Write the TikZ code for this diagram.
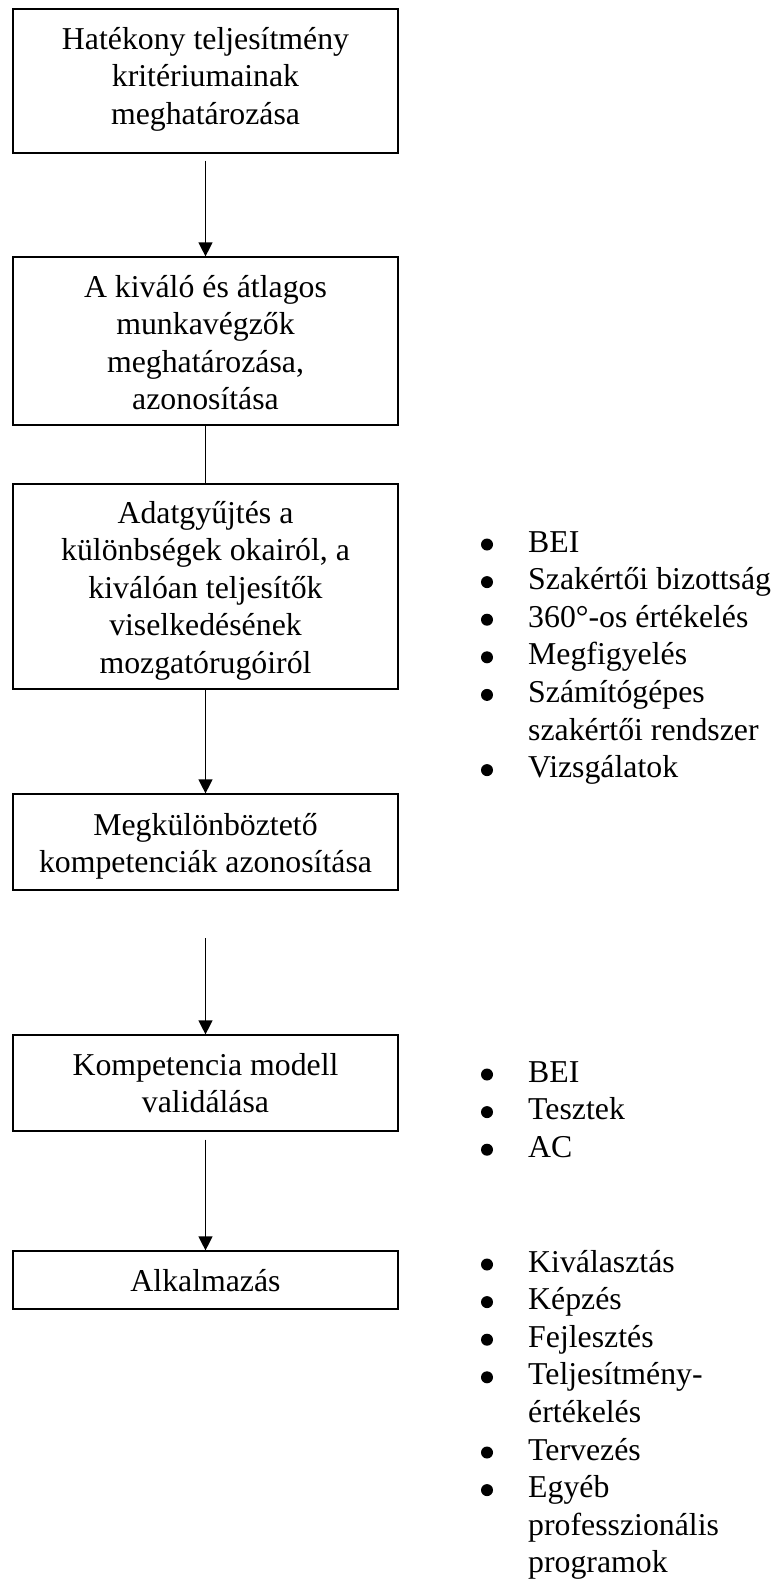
\documentclass[tikz,border=0pt]{standalone}
\usepackage{fontspec}
\setmainfont{Liberation Serif}
\usetikzlibrary{arrows.meta}
\tikzset{
  x=1pt, y=-1pt,
  boxnode/.style={draw=black, line width=1.2pt, rectangle, inner sep=0pt, minimum width=385pt},
  txtnode/.style={inner sep=0pt, anchor=base, font=\fontsize{31.8}{37.6}\selectfont},
  listnode/.style={inner sep=0pt, anchor=base west, font=\fontsize{31.8}{37.6}\selectfont},
  arr/.style={line width=1.2pt, -{Triangle[width=14pt,length=14pt]}},
  conn/.style={line width=1.2pt},
  bulletdot/.style={fill=black}
}
\begin{document}
\begin{tikzpicture}
\useasboundingbox (0,0) rectangle (783,1582);
% boxes
\node[boxnode, minimum height=144pt] (b1) at (205.5,81) {};
\node[boxnode, minimum height=168pt] (b2) at (205.5,341) {};
\node[boxnode, minimum height=205pt] (b3) at (205.5,586.5) {};
\node[boxnode, minimum height=96pt] (b4) at (205.5,842) {};
\node[boxnode, minimum height=96pt] (b5) at (205.5,1083) {};
\node[boxnode, minimum height=58pt] (b6) at (205.5,1280) {};
% box texts
\node[txtnode] (t1) at (205.5,49) {\begin{tabular}[t]{@{}c@{}}Hatékony teljesítmény\\kritériumainak\\meghatározása\end{tabular}};
\node[txtnode] (t2) at (205.5,297) {\begin{tabular}[t]{@{}c@{}}A kiváló és átlagos\\munkavégzők\\meghatározása,\\azonosítása\end{tabular}};
\node[txtnode] (t3) at (205.5,523) {\begin{tabular}[t]{@{}c@{}}Adatgyűjtés a\\különbségek okairól, a\\kiválóan teljesítők\\viselkedésének\\mozgatórugóiról\end{tabular}};
\node[txtnode] (t4) at (205.5,835) {\begin{tabular}[t]{@{}c@{}}Megkülönböztető\\kompetenciák azonosítása\end{tabular}};
\node[txtnode] (t5) at (205.5,1075) {\begin{tabular}[t]{@{}c@{}}Kompetencia modell\\validálása\end{tabular}};
\node[txtnode] (t6) at (205.5,1291) {Alkalmazás};
% connectors
\coordinate (c45) at (205.5,938);
\draw[arr] ([yshift=-7pt]b1.south) -- (b2.north);
\draw[conn] (b2.south) -- (b3.north);
\draw[arr] (b3.south) -- (b4.north);
\draw[arr] (c45) -- (b5.north);
\draw[arr] ([yshift=-8pt]b5.south) -- (b6.north);
% lists
\node[listnode] (l1) at (528,552) {\begin{tabular}[t]{@{}l@{}}
BEI\\
Szakértői bizottság\\
360°-os értékelés\\
Megfigyelés\\
Számítógépes\\
szakértői rendszer\\
Vizsgálatok
\end{tabular}};
\node[listnode] (l2) at (528,1082) {\begin{tabular}[t]{@{}l@{}}
BEI\\
Tesztek\\
AC
\end{tabular}};
\node[listnode] (l3) at (528,1272) {\begin{tabular}[t]{@{}l@{}}
Kiválasztás\\
Képzés\\
Fejlesztés\\
Teljesítmény-\\
értékelés\\
Tervezés\\
Egyéb\\
professzionális\\
programok
\end{tabular}};
% bullets
\foreach \r in {0,1,2,3,4,6} \fill[bulletdot] (487,{552-7.5+37.6*\r}) circle (6);
\foreach \r in {0,1,2} \fill[bulletdot] (487,{1082-7.5+37.6*\r}) circle (6);
\foreach \r in {0,1,2,3,5,6} \fill[bulletdot] (487,{1272-7.5+37.6*\r}) circle (6);
\end{tikzpicture}
\end{document}
